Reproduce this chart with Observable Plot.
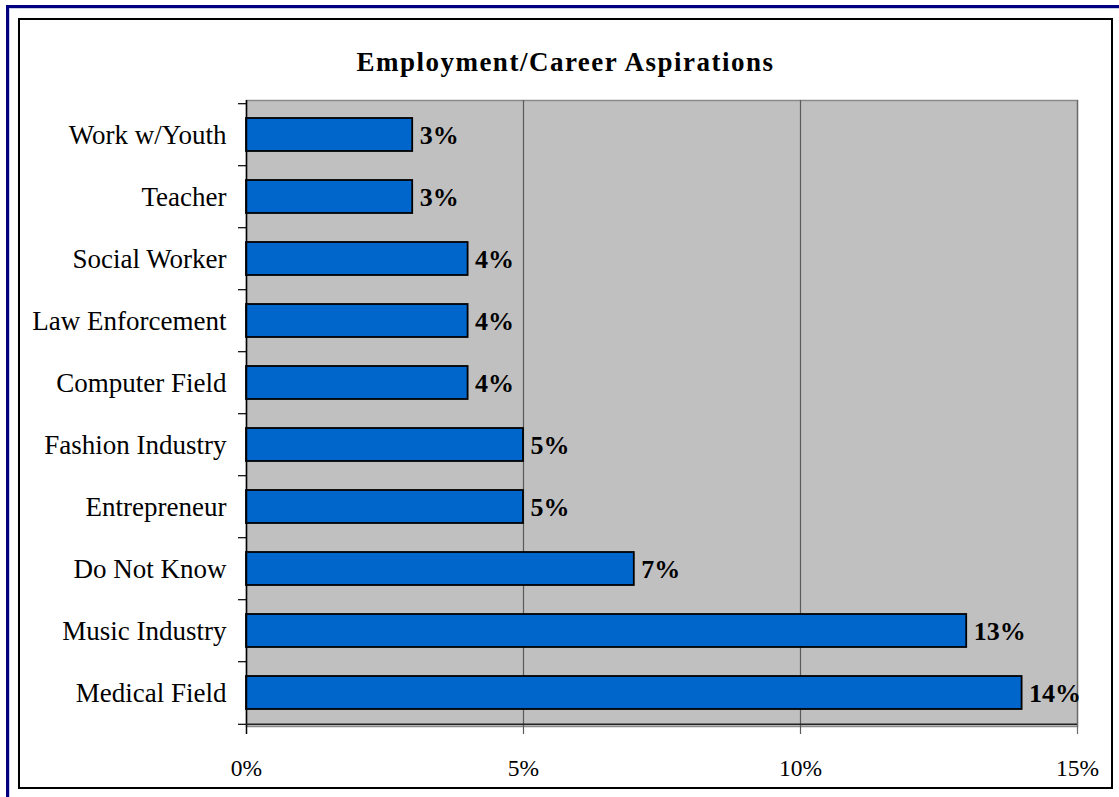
<!DOCTYPE html>
<html>
<head>
<meta charset="utf-8">
<script src="https://cdn.jsdelivr.net/npm/d3@7"></script>
<script src="https://cdn.jsdelivr.net/npm/@observablehq/plot@0.6"></script>
<style>
  body { margin: 0; background: white; }
  #wrap { position: relative; width: 1119px; height: 797px; background: white; overflow: hidden; font-family: "Liberation Serif", "Times New Roman", serif; }
  .navy-top { position: absolute; left: 6px; top: 5px; width: 1113px; height: 3px; background: #000080; }
  .navy-left { position: absolute; left: 6px; top: 5px; width: 3px; height: 792px; background: #000080; }
  .shade-top { position: absolute; left: 9px; top: 8px; width: 1110px; height: 1px; background: #c8cce8; }
  .shade-left { position: absolute; left: 9px; top: 8px; width: 1px; height: 789px; background: #c8cce8; }
  .box { position: absolute; left: 18px; top: 18px; width: 1095px; height: 771px; border: 2px solid #000; box-sizing: border-box; }
  #title { position: absolute; left: 18px; top: 49px; width: 1095px; text-align: center; font-weight: bold; font-size: 27px; line-height: 27px; letter-spacing: 1.5px; color: #000; }
  #chart { position: absolute; left: 0; top: 0; }
</style>
</head>
<body>
<div id="wrap">
  <div class="navy-top"></div>
  <div class="navy-left"></div>
  <div class="shade-top"></div>
  <div class="shade-left"></div>
  <div class="box"></div>
  <div id="title">Employment/Career Aspirations</div>
  <div id="chart"></div>
</div>
<script>
const categories = ["Work w/Youth", "Teacher", "Social Worker", "Law Enforcement", "Computer Field", "Fashion Industry", "Entrepreneur", "Do Not Know", "Music Industry", "Medical Field"];
const values = [3, 3, 4, 4, 4, 5, 5, 7, 13, 14];
const xTicks = [0, 5, 10, 15];
const gridLines = [5, 10];

const data = categories.map((c, i) => ({category: c, value: values[i]}));

const W = 1119, H = 797;
const mL = 246, mR = 42, mT = 100, mB = 71;
const step = (H - mT - mB) / categories.length;
const font = "'Liberation Serif', 'Times New Roman', serif";

const chart = Plot.plot({
  width: W,
  height: H,
  marginLeft: mL,
  marginRight: mR,
  marginTop: mT,
  marginBottom: mB,
  style: {background: "transparent", fontFamily: font, fontSize: "24px", color: "#000", overflow: "visible"},
  x: {domain: [0, 15], ticks: xTicks, label: null},
  y: {domain: categories, paddingInner: 0.47, paddingOuter: 0.235, label: null},
  marks: [
    Plot.frame({fill: "#C0C0C0", stroke: "#8a8a8a", strokeWidth: 1.5}),
    Plot.ruleX(gridLines, {stroke: "#5a5a5a", strokeWidth: 1.2, insetBottom: -8}),
    Plot.barX(data, {x: "value", y: "category", fill: "#0066CC", stroke: "#000", strokeWidth: 1.8}),
    Plot.ruleX([0], {stroke: "#000", strokeWidth: 1.5, insetBottom: -8}),
    Plot.ruleX([15], {stroke: "#6a6a6a", strokeWidth: 1.2, insetBottom: -8, insetTop: 0}),
    Plot.ruleY([categories[categories.length - 1]], {dy: step / 2, stroke: "#222", strokeWidth: 1.5}),
    Plot.ruleY(categories, {dy: -step / 2, x1: 0, x2: 0, insetLeft: -8, stroke: "#000", strokeWidth: 1.2}),
    Plot.ruleY([categories[categories.length - 1]], {dy: step / 2, x1: 0, x2: 0, insetLeft: -8, stroke: "#000", strokeWidth: 1.2}),
    Plot.axisY({tickSize: 0, tickPadding: 20, fontSize: 27, fontFamily: font, label: null}),
    Plot.axisX({ticks: xTicks, tickSize: 0, tickPadding: 33, fontSize: 23.5, fontFamily: font, tickFormat: d => d + "%", label: null}),
    Plot.text(data, {x: "value", y: "category", text: d => d.value + "%", textAnchor: "start", dx: 7, dy: 1, fontWeight: "bold", fontSize: 26, fontFamily: font, fill: "#000"})
  ]
});
document.getElementById("chart").appendChild(chart);
</script>
</body>
</html>
